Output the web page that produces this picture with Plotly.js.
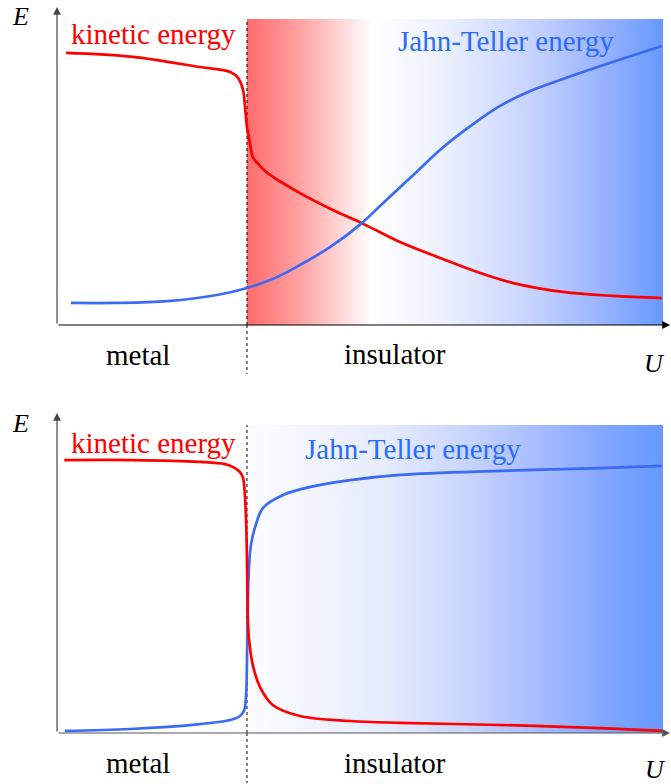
<!DOCTYPE html>
<html>
<head>
<meta charset="utf-8">
<script src="https://cdn.plot.ly/plotly-3.0.1.min.js"></script>
<style>html,body{margin:0;padding:0;background:#fff;}#chart{width:671px;height:784px;}</style>
</head>
<body>
<div id="chart"></div>
<script>
// ---- Data (arbitrary units: U from 0 to 10, E from 0 to 10) ----
const Uc = 3.135; // metal-insulator transition

// Top panel
const topKineticU = [0.15, 1.25, 2.36, 2.86, 2.99, 3.07, 3.10, 3.135, 3.19, 3.23, 3.35, 3.47, 4.01, 4.55, 5.03, 5.66, 6.32, 6.98, 7.53, 8.35, 9.18, 9.98];
const topKineticE = [8.89, 8.76, 8.43, 8.27, 8.07, 7.68, 7.19, 6.47, 5.88, 5.49, 5.20, 4.97, 4.31, 3.76, 3.33, 2.71, 2.19, 1.70, 1.37, 1.08, 0.95, 0.88];
const topJTU = [0.23, 0.99, 1.82, 2.64, 3.135, 3.60, 4.01, 4.51, 5.03, 5.33, 5.88, 6.32, 6.87, 7.31, 7.81, 8.35, 9.18, 9.98];
const topJTE = [0.72, 0.72, 0.78, 0.98, 1.21, 1.54, 1.96, 2.55, 3.33, 3.89, 4.90, 5.72, 6.57, 7.16, 7.65, 8.04, 8.60, 9.12];

// Bottom panel
const botKineticU = [0.12, 1.25, 2.36, 2.77, 2.90, 3.02, 3.07, 3.10, 3.12, 3.135, 3.15, 3.17, 3.23, 3.35, 3.56, 4.01, 4.84, 5.66, 7.31, 8.96, 9.98];
const botKineticE = [8.86, 8.86, 8.80, 8.73, 8.64, 8.47, 8.28, 7.73, 6.92, 5.62, 3.67, 3.02, 2.21, 1.49, 0.91, 0.55, 0.39, 0.33, 0.26, 0.16, 0.07];
const botJTU = [0.13, 1.21, 2.36, 2.86, 3.02, 3.09, 3.12, 3.135, 3.15, 3.17, 3.20, 3.27, 3.40, 3.73, 4.18, 4.84, 5.66, 7.31, 8.96, 9.98];
const botJTE = [0.07, 0.13, 0.29, 0.42, 0.55, 0.75, 1.23, 2.37, 4.32, 5.46, 6.10, 6.69, 7.31, 7.73, 7.99, 8.21, 8.38, 8.51, 8.60, 8.67];

// Labels
const labelKinetic = 'kinetic energy';
const labelJT = 'Jahn-Teller energy';
const labelMetal = 'metal';
const labelInsulator = 'insulator';
const labelE = '<i>E</i>';
const labelU = '<i>U</i>';

// ---- Styling ----
const W = 671, H = 784;
const px = v => v / W;
const py = v => 1 - v / H;
const RED = '#ff0000';
const BLUE = '#3b6bf5';
const BLUE_TXT = '#2a6cff';
const FONT = 'Liberation Serif';

const topScale = [[0, '#ff6b6b'], [0.13, '#ffa3a3'], [0.25, '#ffe4e4'], [0.30, '#ffffff'], [0.46, '#eef2fe'], [0.69, '#c5d2fd'], [0.85, '#9ab4ff'], [1, '#6699ff']];
const botScale = [[0, '#fdfdff'], [0.1, '#f6f8ff'], [0.34, '#e5ebfd'], [0.54, '#c6d3fd'], [0.73, '#a0b8ff'], [0.85, '#84a7ff'], [1, '#6699ff']];

function rect(xa, ya, scale) {
  return {
    x: [Uc, 10, 10, Uc, Uc], y: [0, 0, 10, 10, 0],
    xaxis: xa, yaxis: ya, mode: 'none', fill: 'toself',
    fillcolor: 'rgba(0,0,0,0)',
    fillgradient: {type: 'horizontal', colorscale: scale},
    hoverinfo: 'skip', showlegend: false
  };
}
function dash(xa, ya) {
  return {x: [Uc, Uc], y: [0, 10], xaxis: xa, yaxis: ya, mode: 'lines',
    line: {color: '#000', width: 1, dash: '3px,3px'}, hoverinfo: 'skip', showlegend: false};
}
function curve(xs, ys, xa, ya, color) {
  return {x: xs, y: ys, xaxis: xa, yaxis: ya, mode: 'lines',
    line: {color: color, width: 2.7, shape: 'spline', smoothing: 1.0}, hoverinfo: 'skip', showlegend: false};
}

const data = [
  rect('x', 'y', topScale), dash('x', 'y'),
  curve(topKineticU, topKineticE, 'x', 'y', RED),
  curve(topJTU, topJTE, 'x', 'y', BLUE),
  rect('x2', 'y2', botScale), dash('x2', 'y2'),
  curve(botJTU, botJTE, 'x2', 'y2', BLUE),
  curve(botKineticU, botKineticE, 'x2', 'y2', RED)
];

function txt(text, x, y, color, size) {
  return {text: text, xref: 'paper', yref: 'paper', x: px(x), y: py(y),
    xanchor: 'center', yanchor: 'middle', showarrow: false,
    font: {family: FONT, size: size, color: color}};
}
function arrow(hx, hy, tx, ty, color) {
  return {text: '', xref: 'paper', yref: 'paper', x: px(hx), y: py(hy),
    ax: tx - hx, ay: ty - hy, axref: 'pixel', ayref: 'pixel',
    showarrow: true, arrowhead: 2, arrowsize: 1.3, arrowwidth: 1.2,
    arrowcolor: color, standoff: 0, startstandoff: 0};
}

const annotations = [
  // top panel
  arrow(57, 7, 57, 325, '#444'),
  arrow(670, 325, 57, 325, '#000'),
  txt(labelE, 20, 16, '#000', 26),
  txt(labelKinetic, 153, 34, RED, 29),
  txt(labelJT, 506, 41, BLUE_TXT, 29),
  txt(labelMetal, 138, 355, '#000', 29),
  txt(labelInsulator, 395, 354, '#000', 29),
  txt(labelU, 654, 363, '#000', 26),
  // bottom panel
  arrow(57, 413, 57, 733, '#444'),
  arrow(670, 733, 57, 733, '#555'),
  txt(labelE, 20, 423, '#000', 26),
  txt(labelKinetic, 153, 443, RED, 29),
  txt(labelJT, 413, 449, BLUE_TXT, 29),
  txt(labelMetal, 138, 763, '#000', 29),
  txt(labelInsulator, 395, 763, '#000', 29),
  txt(labelU, 655, 769, '#000', 26)
];

const shapes = [
  {type: 'line', xref: 'x', yref: 'paper', x0: Uc, x1: Uc, y0: py(325), y1: py(374),
    line: {color: '#000', width: 1, dash: '3px,3px'}},
  {type: 'line', xref: 'x2', yref: 'paper', x0: Uc, x1: Uc, y0: py(733), y1: py(783),
    line: {color: '#000', width: 1, dash: '3px,3px'}}
];

const ax = {range: [0, 10], visible: false, fixedrange: true};
const layout = {
  width: W, height: H,
  margin: {l: 0, r: 0, t: 0, b: 0, pad: 0},
  paper_bgcolor: '#fff', plot_bgcolor: 'rgba(0,0,0,0)',
  showlegend: false,
  xaxis: Object.assign({}, ax, {domain: [px(57), px(663)], anchor: 'y'}),
  yaxis: Object.assign({}, ax, {domain: [py(325), py(19)], anchor: 'x'}),
  xaxis2: Object.assign({}, ax, {domain: [px(57), px(663)], anchor: 'y2'}),
  yaxis2: Object.assign({}, ax, {domain: [py(733), py(425)], anchor: 'x2'}),
  annotations: annotations,
  shapes: shapes
};

Plotly.newPlot('chart', data, layout, {staticPlot: true, displayModeBar: false});
</script>
</body>
</html>
